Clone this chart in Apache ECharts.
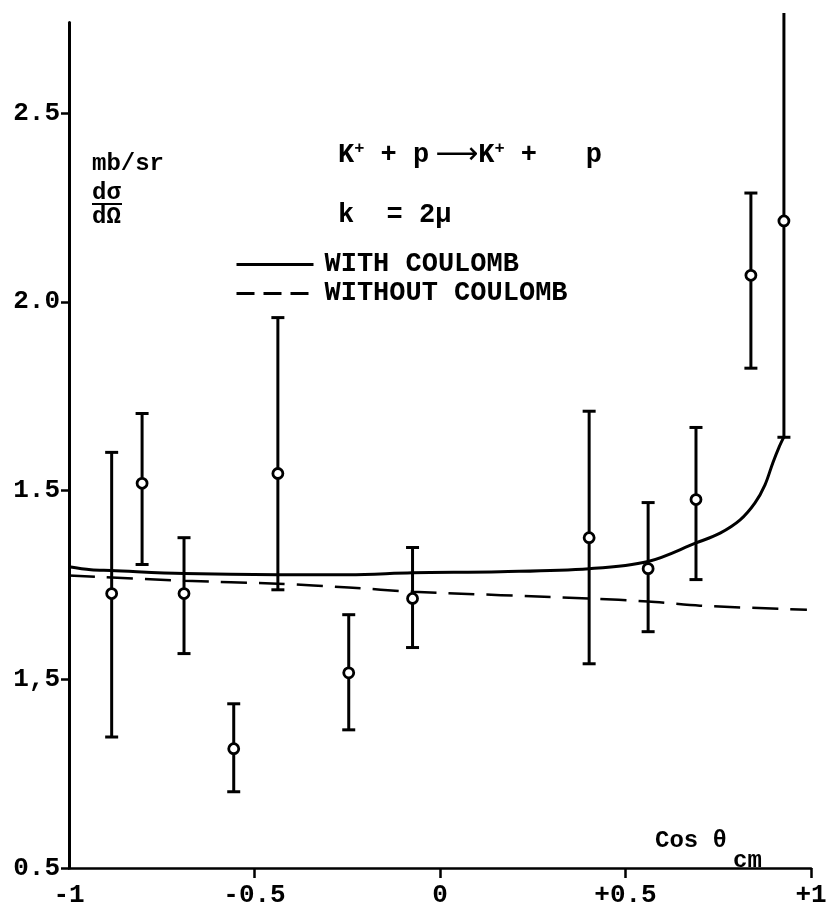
<!DOCTYPE html>
<html>
<head>
<meta charset="utf-8">
<script src="https://cdn.jsdelivr.net/npm/echarts@6/dist/echarts.min.js"></script>
<style>html,body{margin:0;padding:0;background:#fff}#c{width:832px;height:910px}</style>
</head>
<body>
<div id="c"></div>
<script>
// ---- data ----
const xTicks = [-1, -0.5, 0, 0.5, 1];
const xTickLabels = ['-1', '-0.5', '0', '+0.5', '+1'];
const yTicks = [0.5, 1.0, 1.5, 2.0, 2.5];
const yTickLabels = ['0.5', '1,5', '1.5', '2.0', '2.5'];

const cosTheta = [-0.885, -0.803, -0.690, -0.556, -0.437, -0.246, -0.074, 0.402, 0.561, 0.690, 0.838, 0.927];
const dSigma   = [1.227, 1.519, 1.227, 0.816, 1.545, 1.017, 1.214, 1.375, 1.293, 1.476, 2.070, 2.214];
const errLow   = [0.847, 1.304, 1.068, 0.702, 1.237, 0.866, 1.084, 1.041, 1.126, 1.264, 1.824, 1.641];
const errHigh  = [1.601, 1.704, 1.375, 0.935, 1.958, 1.171, 1.349, 1.710, 1.468, 1.667, 2.288, 2.765];

const withCoulombX = [-1.0, -0.941, -0.887, -0.690, -0.437, -0.246, -0.074, 0.163, 0.402, 0.561, 0.690, 0.755, 0.809, 0.849, 0.876, 0.897, 0.914, 0.927];
const withCoulombY = [1.298, 1.290, 1.288, 1.280, 1.277, 1.277, 1.282, 1.285, 1.293, 1.312, 1.361, 1.387, 1.422, 1.467, 1.515, 1.573, 1.615, 1.642];

const withoutCoulombX = [-1.0, -0.690, -0.437, -0.246, -0.074, 0.402, 0.561, 0.701, 0.989];
const withoutCoulombY = [1.275, 1.261, 1.253, 1.243, 1.232, 1.214, 1.206, 1.195, 1.184];

const seriesNames = ['WITH COULOMB', 'WITHOUT COULOMB'];

// ---- chart ----
const FONT = '"Liberation Mono", "DejaVu Sans Mono", monospace';
const INK = '#000';
const Y_MIN = 0.5, Y_MAX = 2.74;

const chart = echarts.init(document.getElementById('c'), null, {renderer: 'canvas'});

const zip = (a, b) => a.map((v, i) => [v, b[i]]);

const option = {
  backgroundColor: '#fff',
  animation: false,
  color: [INK, INK, INK, INK],
  textStyle: {fontFamily: FONT, color: INK},
  grid: {left: 69, right: 21, top: 22.4, bottom: 42, containLabel: false},
  xAxis: {
    type: 'value', min: -1, max: 1, interval: 0.5,
    axisLine: {show: true, onZero: false, lineStyle: {color: INK, width: 2.5}},
    axisTick: {show: true, length: 10, lineStyle: {color: INK, width: 2.5}, customValues: xTicks.slice(1)},
    axisLabel: {
      show: true, margin: 14, color: INK, fontFamily: FONT, fontSize: 26, fontWeight: 'bold',
      customValues: xTicks,
      formatter: v => { const i = xTicks.findIndex(t => Math.abs(t - v) < 1e-6); return i >= 0 ? xTickLabels[i] : ''; }
    },
    splitLine: {show: false}
  },
  yAxis: {
    type: 'value', min: Y_MIN, max: Y_MAX, interval: 0.5,
    axisLine: {show: true, onZero: false, lineStyle: {color: INK, width: 3}},
    axisTick: {show: true, length: 8, lineStyle: {color: INK, width: 2.5}, customValues: yTicks},
    axisLabel: {
      show: true, margin: 9, color: INK, fontFamily: FONT, fontSize: 26, fontWeight: 'bold',
      customValues: yTicks,
      formatter: v => { const i = yTicks.findIndex(t => Math.abs(t - v) < 1e-6); return i >= 0 ? yTickLabels[i] : ''; }
    },
    splitLine: {show: false}
  },
  legend: {
    show: true, orient: 'vertical', left: 230, top: 246,
    itemWidth: 77, itemHeight: 14, itemGap: 2,
    data: [
      {name: seriesNames[0], lineStyle: {color: INK, width: 3, type: 'solid'}},
      {name: seriesNames[1], lineStyle: {color: INK, width: 3, type: [18, 9]}}
    ],
    itemStyle: {color: 'rgba(0,0,0,0)', borderWidth: 0, opacity: 0},
    textStyle: {fontFamily: FONT, fontSize: 27, fontWeight: 'bold', color: INK, lineHeight: 26, padding: [0, 0, 0, 6]}
  },
  series: [
    {
      name: seriesNames[0], type: 'line', data: zip(withCoulombX, withCoulombY),
      smooth: 0.35, symbol: 'none', itemStyle: {color: INK}, lineStyle: {color: INK, width: 3}, z: 3
    },
    {
      name: seriesNames[1], type: 'line', data: zip(withoutCoulombX, withoutCoulombY),
      smooth: 0.3, symbol: 'none', itemStyle: {color: INK}, lineStyle: {color: INK, width: 2.5, type: [26, 12]}, z: 3
    },
    {
      name: 'errors', type: 'custom', clip: false, z: 4,
      data: cosTheta.map((x, i) => [x, errLow[i], errHigh[i]]),
      encode: {x: 0, y: [1, 2]},
      renderItem: function (params, api) {
        const x = api.value(0), lo = api.value(1), hi = api.value(2);
        const pLo = api.coord([x, lo]);
        const pHi = api.coord([x, hi]);
        const hw = 6.5;
        const st = {stroke: INK, lineWidth: 3};
        const children = [
          {type: 'line', shape: {x1: pLo[0], y1: pLo[1], x2: pHi[0], y2: pHi[1]}, style: st},
          {type: 'line', shape: {x1: pLo[0] - hw, y1: pLo[1], x2: pLo[0] + hw, y2: pLo[1]}, style: st}
        ];
        if (hi <= Y_MAX) {
          children.push({type: 'line', shape: {x1: pHi[0] - hw, y1: pHi[1], x2: pHi[0] + hw, y2: pHi[1]}, style: st});
        }
        return {type: 'group', children: children};
      }
    },
    {
      name: 'data', type: 'scatter', z: 5,
      data: zip(cosTheta, dSigma),
      symbol: 'circle', symbolSize: 10,
      itemStyle: {color: '#fff', borderColor: INK, borderWidth: 2.8, opacity: 1}
    }
  ],
  graphic: [
    {type: 'text', left: 92, top: 152, style: {text: 'mb/sr', font: 'bold 24px ' + FONT, fill: INK}},
    {type: 'text', left: 92, top: 181, style: {text: 'dσ', font: 'bold 24px ' + FONT, fill: INK}},
    {type: 'line', shape: {x1: 92, y1: 204, x2: 122, y2: 204}, style: {stroke: INK, lineWidth: 2}},
    {type: 'text', left: 92, top: 205, style: {text: 'dΩ', font: 'bold 24px ' + FONT, fill: INK}},
    {type: 'text', left: 338, top: 140, style: {
      text: 'K{s|+} + p{a|\u27F6}K{s|+} +   p', font: 'bold 27px ' + FONT, fill: INK,
      rich: {
        s: {fontSize: 17, fontWeight: 'bold', fontFamily: FONT, verticalAlign: 'top', padding: [0, 0, 12, 0]},
        a: {fontSize: 30, fontFamily: '"DejaVu Sans", sans-serif', fontWeight: 'normal', padding: [0, 0, 0, 6]}
      }
    }},
    {type: 'text', left: 338, top: 202, style: {text: 'k  = 2\u03BC', font: 'bold 27px ' + FONT, fill: INK}},
    {type: 'text', left: 655, top: 829, style: {text: 'Cos \u03B8', font: 'bold 24px ' + FONT, fill: INK}},
    {type: 'text', left: 733, top: 849, style: {text: 'cm', font: 'bold 24px ' + FONT, fill: INK}}
  ]
};
chart.setOption(option);
</script>
</body>
</html>
